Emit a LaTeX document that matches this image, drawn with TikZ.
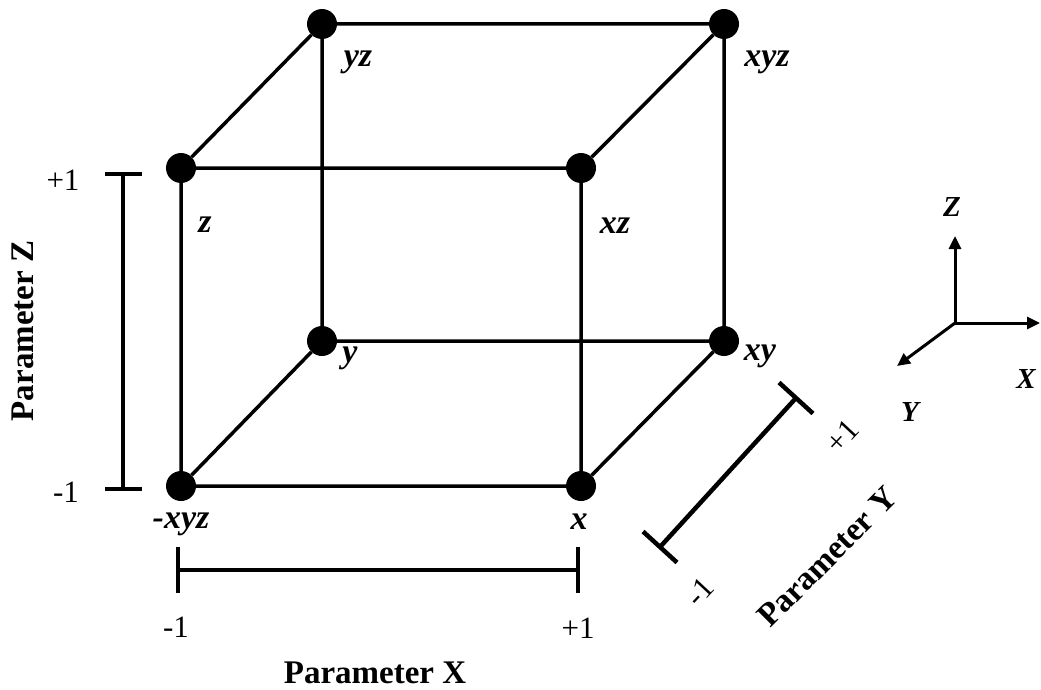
\documentclass[tikz,border=0pt]{standalone}
\usepackage{fontspec}
\setmainfont{Liberation Serif}
\usetikzlibrary{arrows.meta, calc}

\begin{document}
\begin{tikzpicture}[
                x=1pt, y=-1pt,
                >={Triangle[length=13pt, width=12pt]},
                vertex/.style={circle, fill=black, inner sep=0pt, minimum size=30pt},
                edgeline/.style={line width=3.5pt},
                bar/.style={line width=4.5pt},
                corner/.style={inner sep=0pt, font=\fontsize{34}{36}\selectfont\bfseries\itshape},
                axislabel/.style={inner sep=0pt, font=\fontsize{29}{31}\selectfont\bfseries\itshape},
                ticklabel/.style={inner sep=0pt, font=\fontsize{31}{33}\selectfont},
                axistitle/.style={inner sep=0pt, font=\fontsize{33}{35}\selectfont\bfseries}
            ]
                \useasboundingbox (0,0) rectangle (1041,690);

                % cube corners
                \node[vertex] (O)   at (181,486) {};
                \node[vertex] (X)   at (581,486) {};
                \node[vertex] (Z)   at (181,168) {};
                \node[vertex] (XZ)  at (581,168) {};
                \node[vertex] (Y)   at (322,341) {};
                \node[vertex] (XY)  at (724,341) {};
                \node[vertex] (YZ)  at (322,24) {};
                \node[vertex] (XYZ) at (724,24) {};

                \draw[edgeline]
                (O) -- (X) (X) -- (XZ) (XZ) -- (Z) (Z) -- (O)
                (Y) -- (XY) (XY) -- (XYZ) (XYZ) -- (YZ) (YZ) -- (Y)
                (O) -- (Y) (X) -- (XY) (Z) -- (YZ) (XZ) -- (XYZ);

                \node[corner] (lO)   at (181,524) {-xyz};
                \node[corner] (lX)   at (579,522) {x};
                \node[corner] (lZ)   at (205,225) {z};
                \node[corner] (lXZ)  at (615,226) {xz};
                \node[corner] (lY)   at (350,358) {y};
                \node[corner] (lXY)  at (760,356) {xy};
                \node[corner] (lYZ)  at (358,62) {yz};
                \node[corner] (lXYZ) at (767,62) {xyz};

                % parameter Z
                \coordinate (zlo) at (123,489);
                \coordinate (zhi) at (123,174);
                \draw[bar] (zlo) -- (zhi);
                \draw[bar] ($(zlo)+(-18,0)$) -- ($(zlo)+(19,0)$);
                \draw[bar] ($(zhi)+(-18,0)$) -- ($(zhi)+(19,0)$);
                \node[ticklabel] (zmin) at (66,492) {-1};
                \node[ticklabel] (zmax) at (63,180) {+1};
                \node[axistitle, rotate=90] (ztitle) at (23,331) {Parameter Z};

                % parameter X
                \coordinate (xlo) at (178,570);
                \coordinate (xhi) at (578,570);
                \draw[bar] (xlo) -- (xhi);
                \draw[bar] ($(xlo)+(0,-23)$) -- ($(xlo)+(0,23)$);
                \draw[bar] ($(xhi)+(0,-23)$) -- ($(xhi)+(0,23)$);
                \node[ticklabel] (xmin) at (176,627) {-1};
                \node[ticklabel] (xmax) at (578,628) {+1};
                \node[axistitle] (xtitle) at (375,673) {Parameter X};

                % parameter Y
                \coordinate (ylo) at (660,547);
                \coordinate (yhi) at (796,398);
                \draw[bar] (ylo) -- (yhi);
                \draw[bar] ($(ylo)!23pt!90:(yhi)$) -- ($(ylo)!23pt!-90:(yhi)$);
                \draw[bar] ($(yhi)!23pt!90:(ylo)$) -- ($(yhi)!23pt!-90:(ylo)$);
                \node[ticklabel, rotate=47] (ymin) at (700,592) {-1};
                \node[ticklabel, rotate=47] (ymax) at (842,436) {+1};
                \node[axistitle, rotate=45] (ytitle) at (827,557) {Parameter Y};

                % axis cross
                \coordinate (axO) at (955,323);
                \coordinate (axZ) at (955,236);
                \coordinate (axX) at (1040,323);
                \coordinate (axY) at (897,366);
                \draw[->, line width=3pt] (axO) -- (axZ);
                \draw[->, line width=3pt] (axO) -- (axX);
                \draw[->, line width=3pt] (axO) -- (axY);
                \node[axislabel] (tZ) at (952,207) {Z};
                \node[axislabel] (tX) at (1026,379) {X};
                \node[axislabel] (tY) at (910,412) {Y};
\end{tikzpicture}
\end{document}
